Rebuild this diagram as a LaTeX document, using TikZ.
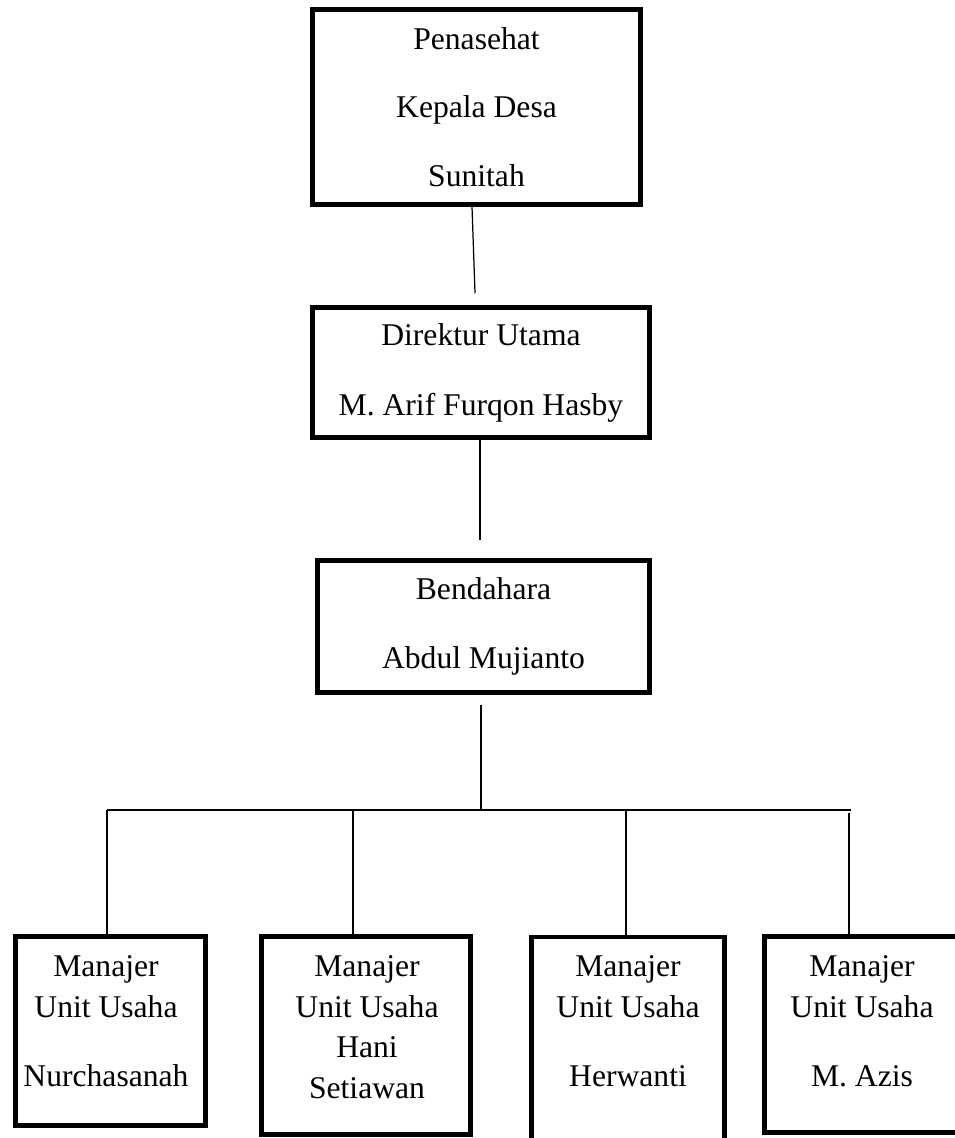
\documentclass[tikz,border=0pt]{standalone}
\usepackage{fontspec}
\setmainfont{Liberation Serif}
\usetikzlibrary{positioning}
\tikzstyle{unit} = [rectangle, 
draw=black, 
line width=2.6pt, 
inner sep=0pt, 
align=center]
\tikzstyle{topbox} = [unit, 
font=\fontsize{18}{39}\selectfont]
\tikzstyle{staff} = [inner sep=0pt, 
align=center, 
anchor=north, 
font=\fontsize{18}{23.2}\selectfont]
\tikzstyle{link} = [line width=0.7pt]

\begin{document}
\begin{tikzpicture}[x=0.02cm, y=-0.02cm]
\useasboundingbox (0,0) rectangle (955,1138);
\clip (0,0) rectangle (955,1138);

% upper boxes
\node (pen) [topbox, minimum width=6.56cm, minimum height=3.9cm] at (476.5,107) {Penasehat\\Kepala Desa\\Sunitah};
\node (dir) [topbox, minimum width=6.74cm, minimum height=2.6cm, font=\fontsize{18}{39.8}\selectfont] at (481,372.5) {Direktur Utama\\M. Arif Furqon Hasby};
\node (ben) [topbox, minimum width=6.64cm, minimum height=2.64cm] at (483.5,626.5) {Bendahara\\Abdul Mujianto};

% lower boxes
\node (m1) [unit, minimum width=3.8cm, minimum height=3.78cm] at (110.5,1031) {};
\node (m2) [unit, minimum width=4.18cm, minimum height=3.96cm] at (366,1035.5) {};
\node (m3) [unit, minimum width=3.86cm, minimum height=4.2cm] at (628,1042) {};
\node (m4) [unit, minimum width=3.95cm, minimum height=3.92cm] at (863,1034.5) {};

\node (t1) [staff] at (106,955) {Manajer\\Unit Usaha\\[0.58cm]Nurchasanah};
\node (t2) [staff] at (367,955) {Manajer\\Unit Usaha\\Hani\\Setiawan};
\node (t3) [staff] at (628,955) {Manajer\\Unit Usaha\\[0.58cm]Herwanti};
\node (t4) [staff] at (862,955) {Manajer\\Unit Usaha\\[0.58cm]M. Azis};

% connectors
\coordinate (penEnd) at (475,293);
\coordinate (dirEnd) at (480,540);
\coordinate (benTop) at (481,705);
\coordinate (busMid) at (481,810);
\coordinate (busR) at (851,810);
\coordinate (d1) at (107,810);
\coordinate (d2) at (353,810);
\coordinate (d3) at (626,810);
\coordinate (d4) at (849,813);

\draw [link] (pen.south -| 472,0) -- (penEnd);
\draw [link] (dirEnd |- dir.south) -- (dirEnd);
\draw [link] (benTop) -- (busMid);
\draw [link] (d1) -- (busR);
\draw [link] (d1) -- (d1 |- m1.north);
\draw [link] (d2) -- (d2 |- m2.north);
\draw [link] (d3) -- (d3 |- m3.north);
\draw [link] (d4) -- (d4 |- m4.north);

\end{tikzpicture}
\end{document}
